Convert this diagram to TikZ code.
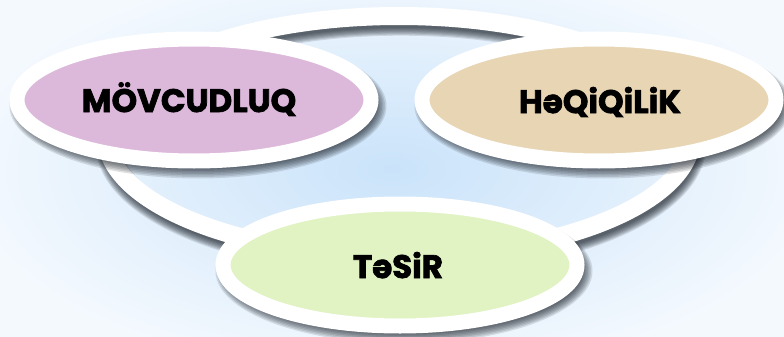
\documentclass[tikz,border=0pt]{standalone}
\usepackage{fontspec}
\setmainfont{Poppins}[BoldFeatures={FakeBold=2.2}]
\usetikzlibrary{shapes.geometric}
\definecolor{bgin}{RGB}{202,227,250}
\definecolor{bgout}{RGB}{244,249,254}
\definecolor{movc}{RGB}{220,184,218}
\definecolor{heqc}{RGB}{232,213,180}
\definecolor{tesc}{RGB}{225,243,195}
\definecolor{shadowc}{RGB}{24,30,38}
\tikzset{
  bubble/.style={ellipse, draw=white, line width=15pt, minimum width=354pt, minimum height=122pt, inner sep=0pt},
  ringstyle/.style={ellipse, draw=white, line width=18pt, minimum width=586pt, minimum height=240pt, inner sep=0pt},
  word/.style={anchor=base, font=\bfseries\fontsize{32.5}{32.5}\selectfont, text=black, inner sep=0pt},
  shadowlayer/.style={shadowc, opacity=0.13},
}
\begin{document}
\begin{tikzpicture}[x=1pt,y=-1pt]
\useasboundingbox (0,0) rectangle (784,337);
\shade[inner color=bgin, outer color=bgout] (-40,-40) rectangle (824,377);
% ring shadow
\foreach \i in {0,...,7}
  \draw[shadowlayer, line width=10pt+2.2pt*\i] (401,143) ellipse [x radius=293pt, y radius=120pt];
\node[ringstyle] (ring) at (399,136) {};
% MÖVCUDLUQ
\foreach \i in {0,...,7}
  \fill[shadowlayer] (198,106) ellipse [x radius=178pt+1.5pt*\i, y radius=62pt+1.5pt*\i];
\node[bubble, fill=movc] (mov) at (194,100) {};
\node[word] (movt) at (189,112) {MÖVCUDLUQ};
% HəQiQiLiK
\foreach \i in {0,...,7}
  \fill[shadowlayer] (603,106) ellipse [x radius=178pt+1.5pt*\i, y radius=62pt+1.5pt*\i];
\node[bubble, fill=heqc] (heq) at (599,100) {};
\node[word] (heqt) at (600,113) {HəQiQiLiK};
% TəSiR
\foreach \i in {0,...,7}
  \fill[shadowlayer] (404,271) ellipse [x radius=178pt+1.5pt*\i, y radius=62pt+1.5pt*\i];
\node[bubble, fill=tesc] (tes) at (400,265) {};
\node[word] (test) at (398,278) {TəSiR};
\end{tikzpicture}
\end{document}
